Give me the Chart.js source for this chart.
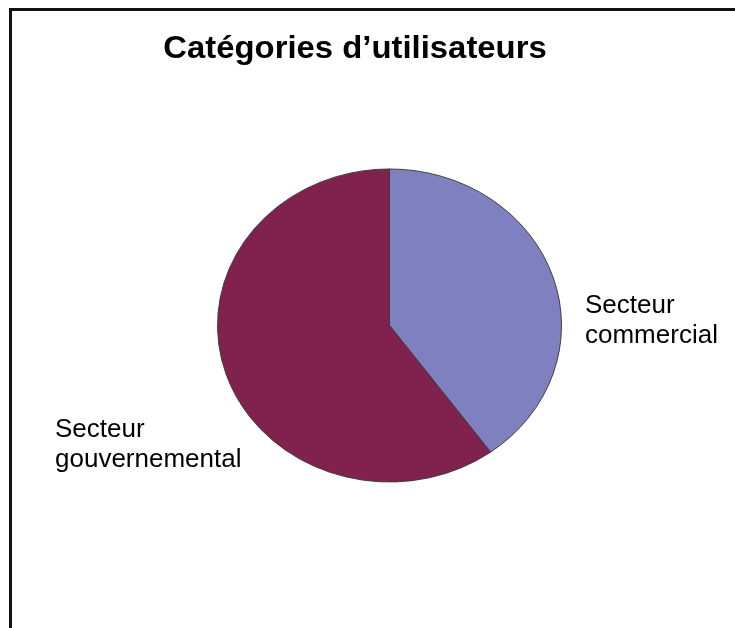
<!DOCTYPE html>
<html lang="fr">
<head>
<meta charset="utf-8">
<title>Catégories d’utilisateurs</title>
<script src="https://cdn.jsdelivr.net/npm/chart.js@4/dist/chart.umd.min.js"></script>
<style>
  html, body { margin: 0; padding: 0; background: #fff; }
  #wrap { width: 735px; height: 628px; position: relative; }
</style>
</head>
<body>
<div id="wrap"><canvas id="pie" width="735" height="628"></canvas></div>
<script>
// Data.
const TITLE = "Catégories d’utilisateurs";
const CATEGORIES = ["Secteur commercial", "Secteur gouvernemental"];
const LABEL_LINES = [["Secteur", "commercial"], ["Secteur", "gouvernemental"]];
const SHARES = [40, 60];
const COLORS = ["#7f80c0", "#81214d"];

// Layout (the source image is squashed vertically, so the pie is an ellipse).
const SQUASH = 0.91;
const FONT = "'Liberation Sans', Arial, sans-serif";
const TITLE_POS = { x: 355, y: 58, size: 31, stretch: 1.06 };
const LABEL_POS = [
  { x: 585, y: 313 },
  { x: 55, y: 437 },
];
const LINE_GAP = 29.5;

const $ = (id) => document.getElementById(id);

const squashPlugin = {
  id: "squash",
  beforeDatasetsDraw(chart) {
    const arc = chart.getDatasetMeta(0).data[0];
    const ctx = chart.ctx;
    ctx.save();
    ctx.translate(arc.x, arc.y);
    ctx.scale(1, SQUASH);
    ctx.translate(-arc.x, -arc.y);
  },
  afterDatasetsDraw(chart) {
    chart.ctx.restore();
  },
};

const textPlugin = {
  id: "texts",
  beforeDraw(chart) {
    const ctx = chart.ctx;
    ctx.save();
    ctx.fillStyle = "#fff";
    ctx.fillRect(0, 0, chart.width, chart.height);
    // frame, cut on the right and at the bottom
    ctx.fillStyle = "#111";
    ctx.fillRect(9, 8, chart.width - 9, 3);
    ctx.fillRect(9, 8, 3, chart.height - 8);
    ctx.restore();
  },
  afterDraw(chart) {
    const ctx = chart.ctx;
    ctx.save();
    ctx.fillStyle = "#000";
    ctx.textBaseline = "alphabetic";

    ctx.font = `bold ${TITLE_POS.size}px ${FONT}`;
    ctx.textAlign = "center";
    ctx.translate(TITLE_POS.x, TITLE_POS.y);
    ctx.scale(TITLE_POS.stretch, 1);
    ctx.fillText(TITLE, 0, 0);
    ctx.setTransform(1, 0, 0, 1, 0, 0);

    ctx.font = `26px ${FONT}`;
    ctx.textAlign = "left";
    LABEL_LINES.forEach((lines, i) => {
      lines.forEach((line, j) => {
        ctx.fillText(line, LABEL_POS[i].x, LABEL_POS[i].y + j * LINE_GAP);
      });
    });
    ctx.restore();
  },
};

new Chart($("pie"), {
  type: "pie",
  data: {
    labels: CATEGORIES,
    datasets: [{
      data: SHARES,
      backgroundColor: COLORS,
      borderColor: "#3a3a3a",
      borderWidth: 1,
    }],
  },
  options: {
    responsive: false,
    animation: false,
    rotation: 0,
    layout: { padding: { left: 217, right: 173, top: 153, bottom: 130 } },
    plugins: {
      legend: { display: false },
      tooltip: { enabled: false },
      title: { display: false },
    },
  },
  plugins: [squashPlugin, textPlugin],
});
</script>
</body>
</html>
